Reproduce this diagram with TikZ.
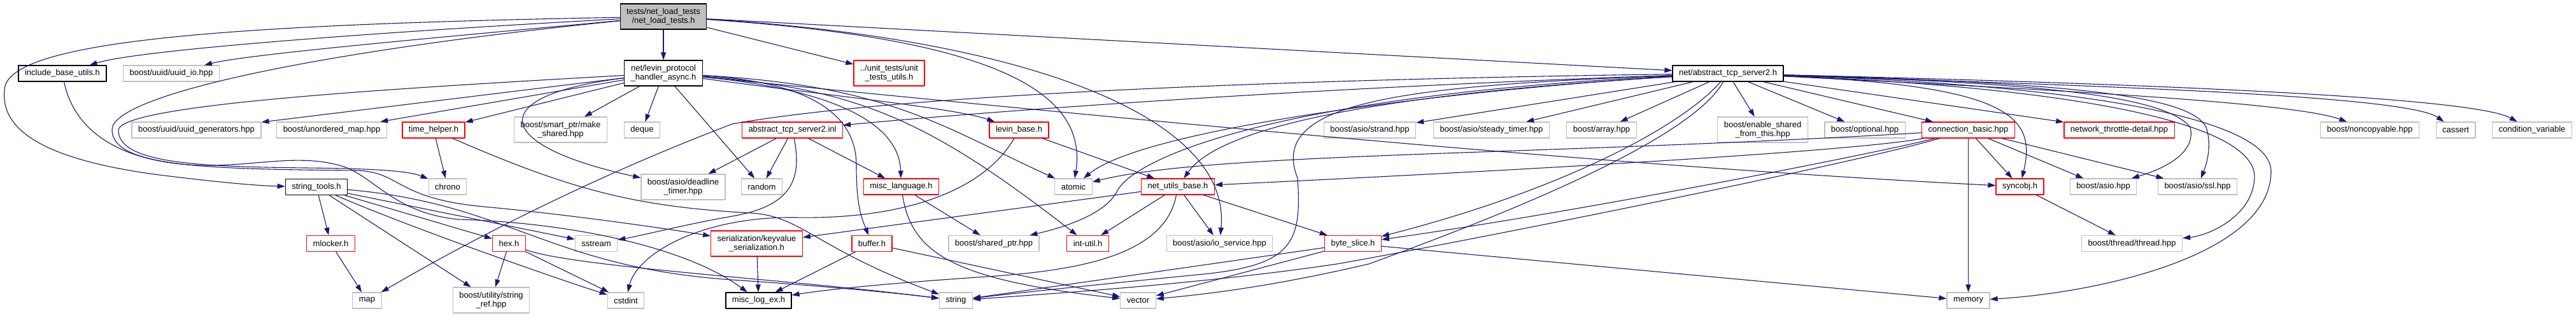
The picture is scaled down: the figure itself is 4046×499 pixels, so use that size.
\documentclass[tikz,border=0pt]{standalone}
\usepackage{fontspec}
\setmainfont{Liberation Sans}
\usetikzlibrary{arrows.meta}
\definecolor{edgeblue}{HTML}{191970}
\definecolor{boxgray}{HTML}{BFBFBF}
\definecolor{boxred}{HTML}{FF0000}
\begin{document}
\begin{tikzpicture}[x=1pt,y=-1pt,line join=round,
  font=\fontsize{13}{14}\selectfont,
  hdr/.style={draw=black,line width=1.2pt,inner xsep=10pt,inner ysep=5pt,
    minimum height=25pt,align=center},
  sys/.style={hdr,draw=boxgray},
  trunc/.style={hdr,draw=boxred},
  root/.style={hdr,fill=boxgray},
  two/.style={minimum height=40pt},
  dep/.style={draw=edgeblue,line width=1.1pt,-{Triangle[length=12pt,width=8pt]}}]
  \useasboundingbox (0,0) rectangle (4046,499);
  % rank 0 and 1
  \node[root,two] (n0) at (1042,26) {tests/net\_load\_tests\\/net\_load\_tests.h};
  \node[hdr] (ibu) at (98,115.5) {include\_base\_utils.h};
  \node[sys] (uio) at (269,115.5) {boost/uuid/uuid\_io.hpp};
  \node[hdr,two] (lev) at (1042,115) {net/levin\_protocol\\\_handler\_async.h};
  \node[trunc,two] (utu) at (1396.5,115) {../unit\_tests/unit\\\_tests\_utils.h};
  \node[hdr] (ats) at (2714,115.5) {net/abstract\_tcp\_server2.h};
  % rank 2
  \node[sys] (ugen) at (308.5,204.5) {boost/uuid/uuid\_generators.hpp};
  \node[sys] (umap) at (521,204.5) {boost/unordered\_map.hpp};
  \node[trunc] (thlp) at (681,204.5) {time\_helper.h};
  \node[sys,two] (mksh) at (880.5,204) {boost/smart\_ptr/make\\\_shared.hpp};
  \node[sys] (deque) at (1008.5,204.5) {deque};
  \node[trunc] (inl) at (1244.5,204.5) {abstract\_tcp\_server2.inl};
  \node[trunc] (lbase) at (1600.5,204.5) {levin\_base.h};
  \node[sys] (strand) at (2151.5,204.5) {boost/asio/strand.hpp};
  \node[sys] (steady) at (2342.5,204.5) {boost/asio/steady\_timer.hpp};
  \node[sys] (array) at (2515.5,204.5) {boost/array.hpp};
  \node[sys,two] (esft) at (2768.5,204) {boost/enable\_shared\\\_from\_this.hpp};
  \node[sys] (opt) at (2929,204.5) {boost/optional.hpp};
  \node[trunc] (cbasic) at (3091.5,204.5) {connection\_basic.hpp};
  \node[trunc] (ntd) at (3328.5,204.5) {network\_throttle-detail.hpp};
  \node[sys] (nonc) at (3722,204.5) {boost/noncopyable.hpp};
  \node[sys] (cassert) at (3857,204.5) {cassert};
  \node[sys] (condv) at (3977,204.5) {condition\_variable};
  % rank 3
  \node[hdr] (stools) at (497,294) {string\_tools.h};
  \node[sys] (chrono) at (703,293.5) {chrono};
  \node[sys,two] (dtimer) at (1073,294) {boost/asio/deadline\\\_timer.hpp};
  \node[sys] (random) at (1196.5,293.5) {random};
  \node[trunc] (mlang) at (1415.5,293.5) {misc\_language.h};
  \node[sys] (atomic) at (1686,293.5) {atomic};
  \node[trunc] (nub) at (1850,293.5) {net\_utils\_base.h};
  \node[trunc] (sync) at (3172.5,293.5) {syncobj.h};
  \node[sys] (asio) at (3303.5,293.5) {boost/asio.hpp};
  \node[sys] (ssl) at (3451.5,293.5) {boost/asio/ssl.hpp};
  % rank 4
  \node[trunc] (mlock) at (519.5,383) {mlocker.h};
  \node[trunc] (hex) at (799.5,383) {hex.h};
  \node[sys] (sstream) at (936.5,383) {sstream};
  \node[trunc,two] (kvs) at (1188.5,383) {serialization/keyvalue\\\_serialization.h};
  \node[trunc] (buffer) at (1369.5,383) {buffer.h};
  \node[sys] (shptr) at (1561,383) {boost/shared\_ptr.hpp};
  \node[trunc] (intu) at (1708.5,383) {int-util.h};
  \node[sys] (iosvc) at (1915.5,383) {boost/asio/io\_service.hpp};
  \node[trunc] (bslice) at (2125,383) {byte\_slice.h};
  \node[sys] (thread) at (3348.5,383) {boost/thread/thread.hpp};
  % rank 5
  \node[sys] (map) at (576.5,472.5) {map};
  \node[sys,two] (sref) at (771.5,472) {boost/utility/string\\\_ref.hpp};
  \node[sys] (cstdint) at (983,472.5) {cstdint};
  \node[hdr] (mlog) at (1191.5,472.5) {misc\_log\_ex.h};
  \node[sys] (string) at (1501.5,472.5) {string};
  \node[sys] (vector) at (1787.5,472.5) {vector};
  \node[sys] (memory) at (3091.5,472.5) {memory};
  % net_load_tests.h
  \draw[dep] (n0) .. controls (600,50) and (220,78) .. (ibu);
  \draw[dep] (n0) .. controls (700,58) and (390,85) .. (uio);
  \draw[dep] (n0) .. controls (400,38) and (30,60) .. (8,135)
    .. controls (-4,200) and (60,250) .. (250,275)
    .. controls (330,285) and (400,292) .. (stools);
  \draw[dep] (n0) -- (lev);
  \draw[dep] (n0) -- (utu);
  \draw[dep] (n0) -- (ats);
  \draw[dep] (n0) .. controls (1550,60) and (1710,140) .. (atomic);
  \draw[dep] (n0) .. controls (1600,60) and (1935,180) .. (iosvc);
  \draw[dep] (n0) .. controls (500,80) and (172,150) .. (176,205)
    .. controls (178,262) and (320,266) .. (560,268)
    .. controls (630,270) and (620,312) .. (760,325)
    .. controls (900,338) and (1050,360) .. (kvs);
  % levin_protocol_handler_async.h
  \draw[dep] (lev) -- (ugen);
  \draw[dep] (lev) -- (umap);
  \draw[dep] (lev) -- (thlp);
  \draw[dep] (lev) -- (mksh);
  \draw[dep] (lev) -- (deque);
  \draw[dep] (lev) .. controls (760,150) and (770,228) .. (dtimer);
  \draw[dep] (lev) -- (random);
  \draw[dep] (lev) .. controls (600,140) and (186,165) .. (186,205)
    .. controls (186,258) and (320,262) .. (480,264)
    .. controls (580,265) and (640,268) .. (chrono);
  \draw[dep] (lev) .. controls (1300,150) and (1500,170) .. (lbase);
  \draw[dep] (lev) .. controls (1290,130) and (1345,190) .. (1345,260)
    .. controls (1345,320) and (1352,340) .. (buffer);
  \draw[dep] (lev) .. controls (1300,140) and (1412,190) .. (mlang);
  \draw[dep] (lev) .. controls (1400,135) and (1480,200) .. (atomic);
  \draw[dep] (lev) .. controls (1350,140) and (1460,190) .. (intu);
  \draw[dep] (lev) .. controls (1700,180) and (2500,260) .. (sync);
  % include_base_utils.h, string_tools.h and the rest on the left
  \draw[dep] (ibu) .. controls (115,200) and (180,255) .. (314,260)
    .. controls (400,262) and (470,240) .. (540,262)
    .. controls (590,280) and (620,335) .. (720,345)
    .. controls (900,350) and (1080,390) .. (mlog);
  \draw[dep] (stools) -- (mlock);
  \draw[dep] (stools) -- (sref);
  \draw[dep] (stools) -- (hex);
  \draw[dep] (stools) -- (sstream);
  \draw[dep] (stools) .. controls (650,360) and (880,440) .. (cstdint);
  \draw[dep] (stools) .. controls (800,320) and (860,420) .. (1150,440)
    .. controls (1300,450) and (1420,462) .. (string);
  \draw[dep] (mlock) -- (map);
  \draw[dep] (thlp) -- (chrono);
  \draw[dep] (thlp) .. controls (900,300) and (1000,325) .. (1180,335)
    .. controls (1260,340) and (1280,390) .. (string);
  \draw[dep] (hex) -- (sref);
  \draw[dep] (hex) -- (cstdint);
  \draw[dep] (hex) .. controls (900,420) and (1250,440) .. (string);
  \draw[dep] (kvs) -- (mlog);
  % abstract_tcp_server2.inl, levin_base.h and the middle
  \draw[dep] (inl) -- (dtimer);
  \draw[dep] (inl) -- (random);
  \draw[dep] (inl) -- (mlang);
  \draw[dep] (inl) .. controls (1262,290) and (1235,325) .. (1150,340)
    .. controls (1080,352) and (1010,370) .. (sstream);
  \draw[dep] (lbase) .. controls (1545,300) and (1420,345) .. (1250,342)
    .. controls (1100,340) and (1000,400) .. (cstdint);
  \draw[dep] (lbase) -- (nub);
  \draw[dep] (mlang) -- (shptr);
  \draw[dep] (mlang) .. controls (1432,400) and (1500,440) .. (vector);
  \draw[dep] (buffer) -- (mlog);
  \draw[dep] (buffer) -- (vector);
  \draw[dep] (nub) -- (kvs);
  \draw[dep] (nub) -- (intu);
  \draw[dep] (nub) -- (iosvc);
  \draw[dep] (nub) -- (bslice);
  \draw[dep] (nub) .. controls (1830,400) and (1700,425) .. (1550,435)
    .. controls (1400,445) and (1300,455) .. (mlog);
  \draw[dep] (sync) -- (thread);
  \draw[dep] (bslice) -- (vector);
  \draw[dep] (bslice) -- (string);
  \draw[dep] (bslice) -- (memory);
  % connection_basic.hpp
  \draw[dep] (cbasic) -- (sync);
  \draw[dep] (cbasic) -- (asio);
  \draw[dep] (cbasic) -- (ssl);
  \draw[dep] (cbasic) -- (memory);
  \draw[dep] (cbasic) .. controls (2400,245) and (1900,240) .. (atomic);
  \draw[dep] (cbasic) .. controls (2900,240) and (2300,272) .. (nub);
  \draw[dep] (cbasic) .. controls (2950,240) and (2500,330) .. (bslice);
  \draw[dep] (cbasic) .. controls (2900,260) and (2300,380) .. (2100,415)
    .. controls (1900,445) and (1650,462) .. (string);
  % abstract_tcp_server2.h
  \draw[dep] (ats) -- (strand);
  \draw[dep] (ats) -- (steady);
  \draw[dep] (ats) -- (array);
  \draw[dep] (ats) -- (esft);
  \draw[dep] (ats) -- (opt);
  \draw[dep] (ats) -- (cbasic);
  \draw[dep] (ats) -- (ntd);
  \draw[dep] (ats) .. controls (3200,140) and (3600,160) .. (nonc);
  \draw[dep] (ats) .. controls (3300,135) and (3780,150) .. (cassert);
  \draw[dep] (ats) .. controls (3300,130) and (3880,150) .. (condv);
  \draw[dep] (ats) .. controls (3250,130) and (3440,150) .. (3465,200)
    .. controls (3475,230) and (3465,260) .. (ssl);
  \draw[dep] (ats) .. controls (3200,130) and (3400,150) .. (3440,200)
    .. controls (3450,240) and (3400,265) .. (asio);
  \draw[dep] (ats) .. controls (3150,135) and (3200,180) .. (sync);
  \draw[dep] (ats) .. controls (3300,140) and (3545,200) .. (3541,280)
    .. controls (3538,340) and (3470,370) .. (thread);
  \draw[dep] (ats) .. controls (3300,135) and (3568,190) .. (3567,270)
    .. controls (3566,400) and (3300,460) .. (memory);
  \draw[dep] (ats) .. controls (2000,125) and (1400,150) .. (1150,195)
    .. controls (900,290) and (700,400) .. (map);
  \draw[dep] (ats) .. controls (2000,140) and (1500,180) .. (inl);
  \draw[dep] (ats) .. controls (2300,140) and (1800,200) .. (atomic);
  \draw[dep] (ats) .. controls (2000,150) and (1780,250) .. (1755,300)
    .. controls (1735,340) and (1660,360) .. (shptr);
  \draw[dep] (ats) .. controls (2300,140) and (1930,180) .. (nub);
  \draw[dep] (ats) .. controls (2640,200) and (2450,300) .. (bslice);
  \draw[dep] (ats) .. controls (2650,230) and (2300,360) .. (2150,415)
    .. controls (2000,450) and (1900,462) .. (vector);
  \draw[dep] (ats) .. controls (2200,135) and (1990,160) .. (2038,280)
    .. controls (2045,380) and (2030,415) .. (1900,430)
    .. controls (1750,445) and (1600,460) .. (string);
\end{tikzpicture}
\end{document}
